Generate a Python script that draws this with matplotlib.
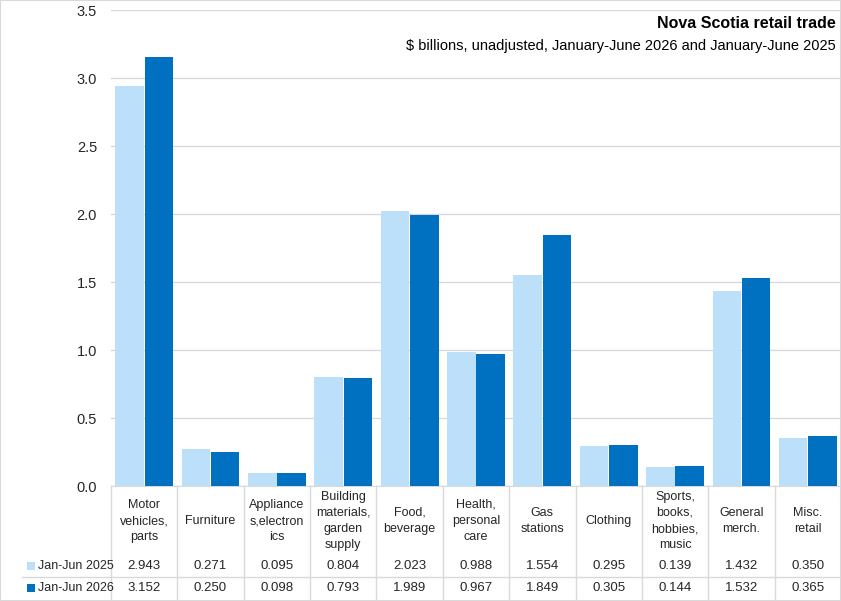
import matplotlib
matplotlib.use("Agg")
import matplotlib.pyplot as plt
import matplotlib.transforms as mtransforms
from matplotlib.patches import Rectangle
from matplotlib.lines import Line2D
import numpy as np

plt.rcParams['font.family'] = ['Liberation Sans', 'DejaVu Sans']

categories = ["Motor\nvehicles,\nparts", "Furniture", "Appliance\ns,electron\nics",
              "Building\nmaterials,\ngarden\nsupply", "Food,\nbeverage", "Health,\npersonal\ncare",
              "Gas\nstations", "Clothing", "Sports,\nbooks,\nhobbies,\nmusic", "General\nmerch.",
              "Misc.\nretail"]
series_names = ["Jan-Jun 2025", "Jan-Jun 2026"]
values_2025 = [2.943, 0.271, 0.095, 0.804, 2.023, 0.988, 1.554, 0.295, 0.139, 1.432, 0.350]
values_2026 = [3.152, 0.250, 0.098, 0.793, 1.989, 0.967, 1.849, 0.305, 0.144, 1.532, 0.365]
yticks = [0.0, 0.5, 1.0, 1.5, 2.0, 2.5, 3.0, 3.5]
title = "Nova Scotia retail trade"
subtitle = "$ billions, unadjusted, January-June 2026 and January-June 2025"

c_light = "#BDE0FA"
c_dark = "#0070C0"
grid_c = "#D9D9D9"
text_c = "#262626"

W, H = 841, 601
fig = plt.figure(figsize=(W / 100, H / 100), dpi=100)
fig.patch.set_facecolor("white")

# plot area in pixel coordinates
left, right, top, bottom = 111, 841, 10, 486
ax = fig.add_axes([left / W, 1 - bottom / H, (right - left) / W, (bottom - top) / H])

n = len(categories)
x = np.arange(n)
bw = 0.43
ax.bar(x - bw / 2 - 0.005, values_2025, width=bw, color=c_light, zorder=3)
ax.bar(x + bw / 2 + 0.005, values_2026, width=bw, color=c_dark, zorder=3)

ax.set_xlim(-0.5, n - 0.5)
ax.set_ylim(0, 3.5)
ax.set_yticks(yticks)
ax.set_yticklabels([f"{v:.1f}" for v in yticks], fontsize=10.5, color=text_c)
ax.tick_params(axis="y", length=0, pad=10)
ax.set_xticks([])
for s in ["left", "right", "top"]:
    ax.spines[s].set_visible(False)
ax.spines["bottom"].set_color(grid_c)
ax.yaxis.grid(True, color=grid_c, linewidth=1, zorder=0)
ax.set_axisbelow(True)

# title
fig.text(836 / W, 1 - 24 / H, title, ha="right", va="center", fontsize=11.5,
         fontweight="bold", color="black")
fig.text(836 / W, 1 - 46 / H, subtitle, ha="right", va="center", fontsize=10.5, color="black")

# data table
tr = mtransforms.blended_transform_factory(ax.transData, fig.transFigure)
def fy(py):
    return 1 - py / H

for i in range(n + 1):
    xb = i - 0.5
    fig.add_artist(Line2D([xb, xb], [fy(486), fy(600)], transform=tr, color=grid_c, lw=1))
fig.add_artist(Line2D([22 / W, 1], [fy(577), fy(577)], color=grid_c, lw=1))

for i, lab in enumerate(categories):
    fig.text(i, fy(521), lab, transform=tr, ha="center", va="center", fontsize=9,
             linespacing=1.45, color=text_c)
    fig.text(i, fy(566), f"{values_2025[i]:.3f}", transform=tr, ha="center", va="center",
             fontsize=9.5, color=text_c)
    fig.text(i, fy(588), f"{values_2026[i]:.3f}", transform=tr, ha="center", va="center",
             fontsize=9.5, color=text_c)

for k, (name, col, py) in enumerate(zip(series_names, [c_light, c_dark], [566, 588])):
    fig.add_artist(Rectangle((27 / W, fy(py + 4)), 8 / W, 8 / H, transform=fig.transFigure,
                             facecolor=col, edgecolor="none"))
    fig.text(38 / W, fy(py), name, ha="left", va="center", fontsize=9, color=text_c)

# outer border
fig.add_artist(Rectangle((0, 0), 1, 1, transform=fig.transFigure, fill=False,
                         edgecolor=grid_c, lw=1.5))

fig.savefig("out.png", dpi=100)
